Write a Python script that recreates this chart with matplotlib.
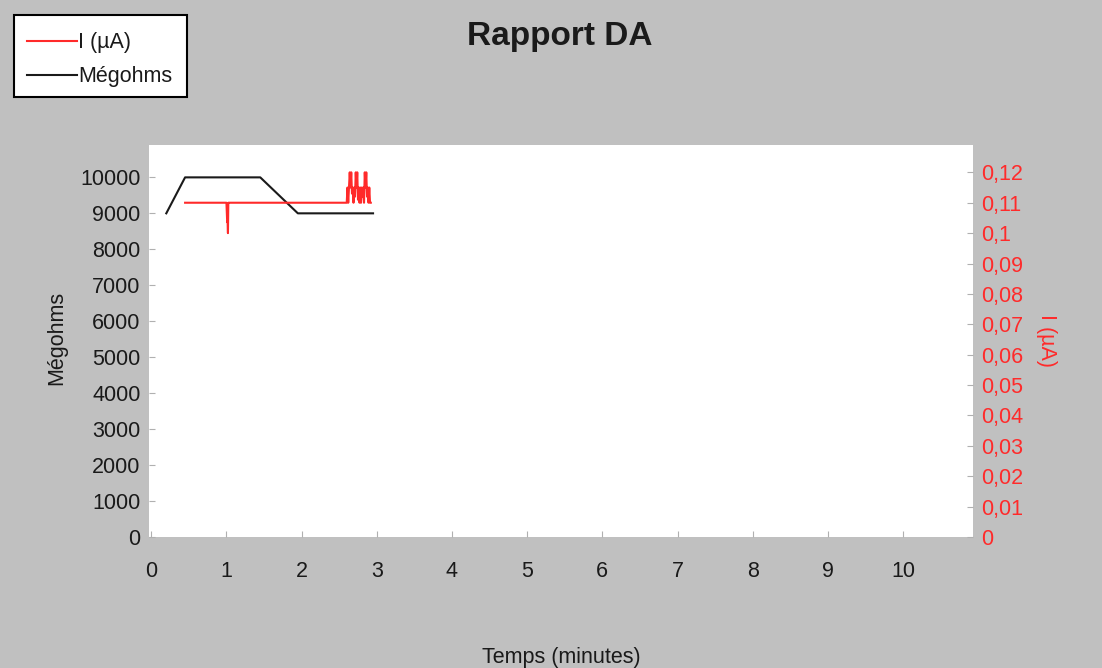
import matplotlib
matplotlib.use("Agg")
import matplotlib.pyplot as plt
from matplotlib.lines import Line2D
from matplotlib.patches import Rectangle

plt.rcParams['font.family'] = ['Liberation Sans', 'DejaVu Sans']

# ---- data ----
meg_time = [0.20, 0.45, 1.45, 1.95, 2.95]
meg_vals = [9000, 10000, 10000, 9000, 9000]

i_time = [0.45, 1.00, 1.01, 1.015, 1.02, 1.025, 1.035, 2.60,
          2.61, 2.62, 2.63, 2.64, 2.65, 2.66, 2.67, 2.68, 2.69, 2.70,
          2.71, 2.72, 2.73, 2.74, 2.75, 2.76, 2.77, 2.78, 2.79, 2.80,
          2.81, 2.82, 2.83, 2.84, 2.85, 2.86, 2.87, 2.88, 2.89, 2.90,
          2.91, 2.92]
i_vals = [0.110, 0.110, 0.1036, 0.104, 0.100, 0.110, 0.110, 0.110,
          0.115, 0.110, 0.115, 0.120, 0.115, 0.120, 0.113, 0.115, 0.110, 0.115,
          0.112, 0.120, 0.115, 0.120, 0.111, 0.115, 0.110, 0.115, 0.110, 0.115,
          0.112, 0.115, 0.110, 0.120, 0.115, 0.120, 0.112, 0.115, 0.110, 0.115,
          0.110, 0.110]

x_ticks = list(range(0, 11))
left_ticks = list(range(0, 10001, 1000))
right_ticks = [0, 0.01, 0.02, 0.03, 0.04, 0.05, 0.06, 0.07, 0.08, 0.09, 0.10, 0.11, 0.12]
right_labels = ['0', '0,01', '0,02', '0,03', '0,04', '0,05', '0,06', '0,07',
                '0,08', '0,09', '0,1', '0,11', '0,12']

BG = '#c0c0c0'
RED = '#ff2a2a'
INK = '#1a1a1a'
FS = 15.5

fig = plt.figure(figsize=(11.02, 6.68), dpi=100, facecolor=BG)
ax = fig.add_axes([149/1102, 1 - 537/668, (973-149)/1102, (537-145)/668])
ax.set_facecolor('white')
ax2 = ax.twinx()

ax.plot(meg_time, meg_vals, color=INK, lw=1.5)
ax2.plot(i_time, i_vals, color=RED, lw=1.5)

ax.set_xlim(-0.03, 10.93)
ax.set_ylim(0, 10900)
ax2.set_ylim(0, 0.129)

ax.set_xticks(x_ticks)
ax.set_yticks(left_ticks)
ax2.set_yticks(right_ticks)
ax2.set_yticklabels(right_labels)

for a in (ax, ax2):
    for s in a.spines.values():
        s.set_visible(False)

ax.tick_params(axis='both', direction='in', length=4, color='#b0b0b0',
               labelsize=FS, labelcolor=INK)
ax.tick_params(axis='x', pad=17)
ax.tick_params(axis='y', pad=6)
ax2.tick_params(axis='y', direction='in', length=4, color='#b0b0b0',
                labelsize=FS, labelcolor=RED, pad=6)

fig.text(57/1102, 1 - 338/668, 'Mégohms', rotation=90, ha='center', va='center',
         fontsize=FS, color=INK)
fig.text(1047/1102, 1 - 340/668, 'I (µA)', rotation=270, ha='center', va='center',
         fontsize=FS, color=RED)
fig.text(561/1102, 1 - 657/668, 'Temps (minutes)', ha='center', va='center',
         fontsize=FS, color=INK)
fig.text(560/1102, 1 - 37/668, 'Rapport DA', ha='center', va='center',
         fontsize=24, fontweight='bold', color=INK)

# legend box
fig.patches.append(Rectangle((14/1102, 1 - 97/668), 173/1102, 82/668,
                             transform=fig.transFigure, facecolor='white',
                             edgecolor='black', lw=1.5, zorder=1))
handles = [Line2D([], [], color=RED, lw=1.5), Line2D([], [], color=INK, lw=1.5)]
leg = fig.legend(handles, ['I (µA)', 'Mégohms'], loc='upper left',
                 bbox_to_anchor=(23/1102, 1 - 28/668), bbox_transform=fig.transFigure,
                 fontsize=FS, frameon=False, handlelength=2.3,
                 handletextpad=0.05, borderpad=0.2, labelspacing=0.6,
                 borderaxespad=0)
leg.set_zorder(3)
for t in leg.get_texts():
    t.set_color(INK)

fig.savefig('out.png', dpi=100, facecolor=BG)
